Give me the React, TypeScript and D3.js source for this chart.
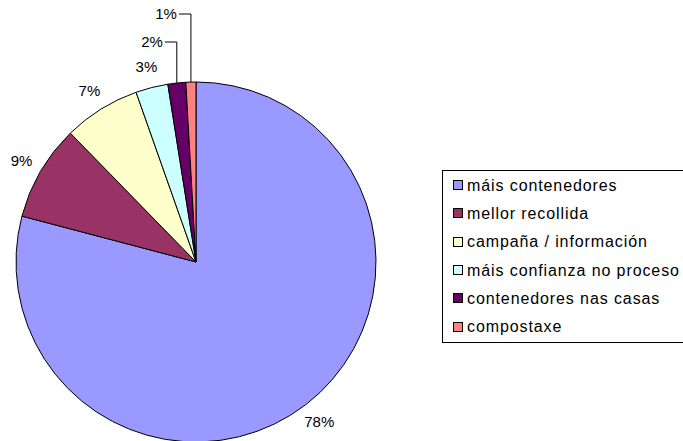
import React from "react";
import * as d3 from "d3";

const categories = [
  "máis contenedores",
  "mellor recollida",
  "campaña / información",
  "máis confianza no proceso",
  "contenedores nas casas",
  "compostaxe",
];
const values = [79.1, 8.6, 6.9, 2.9, 1.6, 0.9];
const pctLabels = ["78%", "9%", "7%", "3%", "2%", "1%"];
const colors = ["#9999FF", "#993366", "#FFFFCC", "#CCFFFF", "#660066", "#FF8080"];

const W = 683;
const H = 441;
const cx = 196;
const cy = 262;
const R = 180;
const labelR = 202;
const FONT = "Liberation Sans, Arial, Helvetica, sans-serif";
// slices whose labels are lifted with a leader line: index -> label centre y offset
const leaderY: Record<number, number> = { 4: -220, 5: -248 };

export default function App() {
  const pie = d3
    .pie<number>()
    .value((d) => d)
    .sort(null)
    .startAngle(0)
    .endAngle(2 * Math.PI);
  const arcs = pie(values);
  const arcGen = d3.arc<d3.PieArcDatum<number>>().innerRadius(0).outerRadius(R);

  const legendX = 442;
  const legendY = 170;
  const rowH = 28.3;

  return (
    <svg width={W} height={H} style={{ position: "absolute", left: 0, top: 0 }}>
      <rect x={0} y={0} width={W} height={H} fill="#fff" />
      <g transform={`translate(${cx},${cy})`}>
        {arcs.map((a, i) => (
          <path key={i} d={arcGen(a) || ""} fill={colors[i]} stroke="#000" strokeWidth={1} />
        ))}
        {arcs.map((a, i) => {
          const mid = (a.startAngle + a.endAngle) / 2;
          const sx = Math.sin(mid);
          const sy = -Math.cos(mid);
          if (leaderY[i] !== undefined) {
            const ax = R * sx;
            const ay = R * sy;
            const ly = leaderY[i];
            const hx = ax - 12;
            return (
              <g key={i}>
                <polyline
                  points={`${ax},${ay} ${ax},${ly} ${hx},${ly}`}
                  fill="none"
                  stroke="#000"
                  strokeWidth={1}
                />
                <text
                  x={hx - 2}
                  y={ly}
                  dy="0.36em"
                  textAnchor="end"
                  fontSize={15}
                  fontFamily={FONT}
                  fill="#000"
                >
                  {pctLabels[i]}
                </text>
              </g>
            );
          }
          return (
            <text
              key={i}
              x={labelR * sx}
              y={labelR * sy}
              dy="0.36em"
              textAnchor="middle"
              fontSize={15}
              fontFamily={FONT}
              fill="#000"
            >
              {pctLabels[i]}
            </text>
          );
        })}
      </g>
      <rect
        x={legendX + 0.5}
        y={legendY + 0.5}
        width={260}
        height={172}
        fill="#fff"
        stroke="#000"
        strokeWidth={1}
        shapeRendering="crispEdges"
      />
      {categories.map((c, i) => {
        const y = legendY + 15 + i * rowH;
        return (
          <g key={c}>
            <rect
              x={453.5}
              y={Math.round(y - 5) + 0.5}
              width={9}
              height={9}
              fill={colors[i]}
              stroke="#000"
              strokeWidth={1}
              shapeRendering="crispEdges"
            />
            <text
              x={467}
              y={y}
              dy="0.36em"
              fontSize={16}
              letterSpacing={0.9}
              fontFamily={FONT}
              fill="#000"
            >
              {c}
            </text>
          </g>
        );
      })}
    </svg>
  );
}
